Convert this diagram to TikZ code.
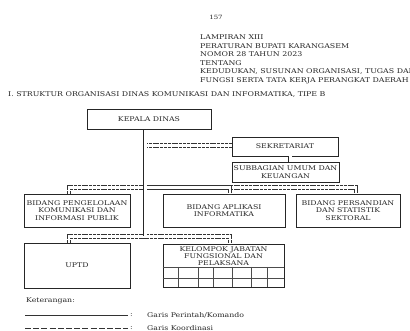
\documentclass[tikz,border=0pt]{standalone}
\usepackage{fontspec}
\setmainfont{DejaVu Serif}
\newfontfamily\widefont{DejaVu Serif}[FakeStretch=1.2]
\begin{document}
\begin{tikzpicture}[x=1pt,y=-1pt,
  box/.style={draw=black!85, line width=0.6pt, inner sep=0pt, align=center, text=black!85,
    font=\widefont\fontsize{6.5}{7.5}\selectfont},
  lbl/.style={inner sep=0pt, align=center, text=black!85, font=\widefont\fontsize{6.5}{7.1}\selectfont},
  hdr/.style={inner sep=0pt, align=left, text=black!85, font=\widefont\fontsize{6.55}{8.6}\selectfont},
  leg/.style={inner sep=0pt, text=black!85, font=\widefont\fontsize{6.5}{8}\selectfont},
  cmd/.style={draw=black!85, double=white, double distance=3pt, line width=0.55pt},
  crd/.style={draw=black!80, line width=4.2pt, dash pattern=on 3pt off 0.8pt,
    postaction={draw=white, line width=2.9pt, solid}},
  grid/.style={draw=black!70, line width=0.5pt}
]
\useasboundingbox (0,0) rectangle (410,331);

% header
\node[hdr, anchor=base, font=\widefont\fontsize{5.8}{7}\selectfont] (page) at (216,20) {157};
\begin{scope}
\clip (0,0) rectangle (410,331);
\node[hdr, anchor=base west] (head) at (200,82.5) {LAMPIRAN XIII\\PERATURAN BUPATI KARANGASEM\\NOMOR 28 TAHUN 2023\\TENTANG\\KEDUDUKAN, SUSUNAN ORGANISASI, TUGAS DAN\\FUNGSI SERTA TATA KERJA PERANGKAT DAERAH};
\end{scope}
\node[hdr, anchor=base west] (title) at (8,97) {I. STRUKTUR ORGANISASI DINAS KOMUNIKASI DAN INFORMATIKA, TIPE B};

% boxes
\node[box, minimum width=124pt, minimum height=20pt] (kepala) at (149,119.5) {KEPALA DINAS};
\node[box, minimum width=106pt, minimum height=19pt] (sekr) at (285,146.5) {SEKRETARIAT};
\node[box, minimum width=107pt, minimum height=20pt] (subb) at (285.5,172) {SUBBAGIAN UMUM DAN\\KEUANGAN};
\node[box, minimum width=106pt, minimum height=33pt] (b1) at (77,210.5) {BIDANG PENGELOLAAN\\KOMUNIKASI DAN\\INFORMASI PUBLIK};
\node[box, minimum width=122pt, minimum height=33pt] (b2) at (224,210.5) {BIDANG APLIKASI\\INFORMATIKA};
\node[box, minimum width=104pt, minimum height=33pt] (b3) at (348,210.5) {BIDANG PERSANDIAN\\DAN STATISTIK\\SEKTORAL};
\node[box, minimum width=106pt, minimum height=45pt] (uptd) at (77,265.5) {UPTD};
\node[box, minimum width=121pt, minimum height=43pt] (kel) at (223.5,265.5) {};
\node[lbl, anchor=north] (kelt) at (223.5,246.5) {KELOMPOK JABATAN\\FUNGSIONAL DAN\\PELAKSANA};

% grid inside kelompok
\draw[grid] (kel.west |- 0,267) -- (kel.east |- 0,267);
\draw[grid] (kel.west |- 0,278) -- (kel.east |- 0,278);
\foreach \gx in {178,198,213,232,251,267}
  \draw[grid] (\gx,267) -- (\gx,287);

% junction coordinates
\coordinate (jtop) at (145,187.5);
\coordinate (jbot) at (145,236.5);
\coordinate (jsek) at (145,145.5);
\coordinate (d1) at (69,194);
\coordinate (d2) at (230,194);
\coordinate (d3) at (356,194);
\coordinate (d4) at (69,243);
\coordinate (d5) at (230,244);

% coordination lines
\draw[crd] (jsek) -- (jsek -| sekr.west);
\draw[crd] (d1) |- (jtop) -| (d3);
\draw[crd] (jtop) -| (d2);
\draw[crd] (d4) |- (jbot) -| (d5);

% command lines
\draw[cmd] (kepala.south -| jtop) -- (jbot);
\draw[cmd] (sekr.south -| 290,0) -- (subb.north -| 290,0);

% legend
\node[leg, anchor=base west] (ket) at (26,303) {Keterangan:};
\coordinate (l1a) at (25,315);
\coordinate (l1b) at (128,315);
\coordinate (l2a) at (25,328);
\coordinate (l2b) at (128,328);
\draw[black!80, line width=0.6pt] (l1a) -- (l1b);
\draw[black!80, line width=0.9pt, dash pattern=on 6pt off 2.2pt] (l2a) -- (l2b);
\node[leg, anchor=west] (c1) at (130,315) {:};
\node[leg, anchor=west] (c2) at (130,328) {:};
\node[leg, anchor=base west] (t1) at (147,317.5) {Garis Perintah/Komando};
\node[leg, anchor=base west] (t2) at (147,330.5) {Garis Koordinasi};
\end{tikzpicture}
\end{document}
